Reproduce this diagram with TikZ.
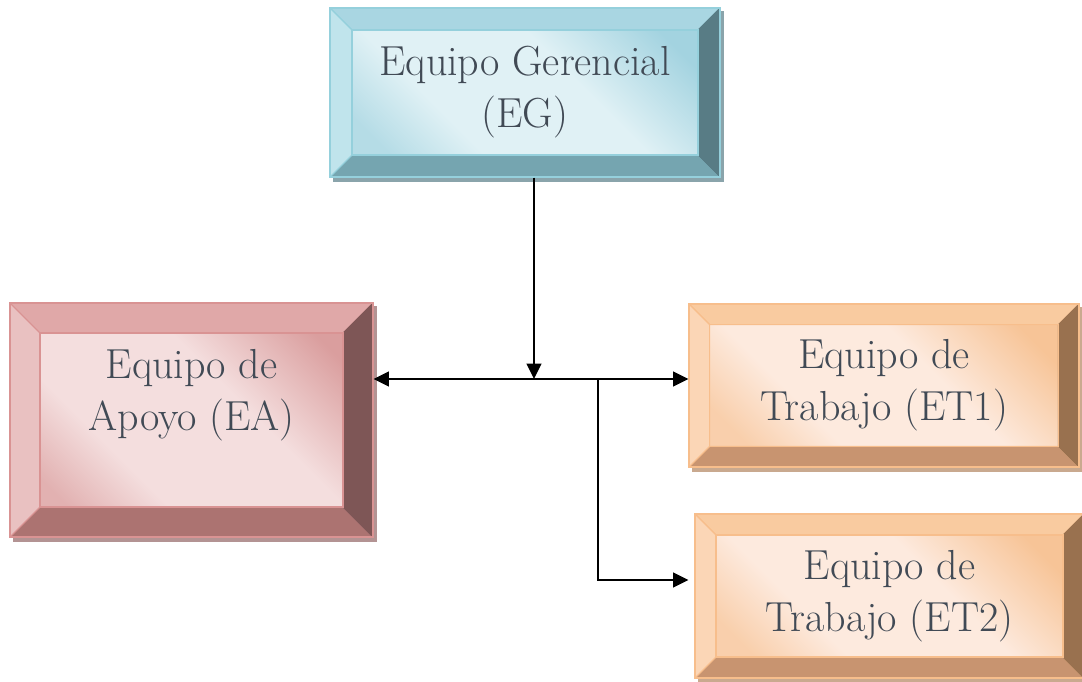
\documentclass[tikz,border=0pt]{standalone}
\usetikzlibrary{arrows.meta,backgrounds,calc}
\definecolor{txt}{HTML}{414A55}
% EG colours
\definecolor{gBorder}{HTML}{95D0DC}\definecolor{gDark}{HTML}{A3D3E0}\definecolor{gLight}{HTML}{E0F1F5}
\definecolor{gTop}{HTML}{A9D6E2}\definecolor{gLeft}{HTML}{C0E4EC}\definecolor{gRight}{HTML}{587C85}\definecolor{gBot}{HTML}{75A5B0}\definecolor{gShad}{HTML}{8AA4AB}
% EA colours
\definecolor{rBorder}{HTML}{D99393}\definecolor{rDark}{HTML}{DA9E9E}\definecolor{rLight}{HTML}{F4DEDE}
\definecolor{rTop}{HTML}{E0A8A8}\definecolor{rLeft}{HTML}{E9C1C1}\definecolor{rRight}{HTML}{7E5656}\definecolor{rBot}{HTML}{AC7371}\definecolor{rShad}{HTML}{B39393}
% ET colours
\definecolor{oBorder}{HTML}{F7BE8C}\definecolor{oDark}{HTML}{F7C497}\definecolor{oLight}{HTML}{FDEADE}
\definecolor{oTop}{HTML}{F9CBA0}\definecolor{oLeft}{HTML}{FBD6B6}\definecolor{oRight}{HTML}{99714F}\definecolor{oBot}{HTML}{C89470}\definecolor{oShad}{HTML}{C9A98F}
\pgfdeclareverticalshading{gface}{100bp}{color(0bp)=(gDark!70!gLight); color(25bp)=(gDark!70!gLight); color(37bp)=(gLight); color(58bp)=(gLight); color(75bp)=(gDark); color(100bp)=(gDark)}
\pgfdeclareverticalshading{rface}{100bp}{color(0bp)=(rDark!70!rLight); color(25bp)=(rDark!70!rLight); color(37bp)=(rLight); color(58bp)=(rLight); color(75bp)=(rDark); color(100bp)=(rDark)}
\pgfdeclareverticalshading{oface}{100bp}{color(0bp)=(oDark!70!oLight); color(25bp)=(oDark!70!oLight); color(37bp)=(oLight); color(58bp)=(oLight); color(75bp)=(oDark); color(100bp)=(oDark)}
\tikzset{
  bevelbox/.style n args={8}{
    rectangle, draw=#2, line width=0.8pt, inner sep=0pt,
    shade, shading=#3, shading angle=-45,
    path picture={
      \coordinate (pnw) at (path picture bounding box.north west);
      \coordinate (pne) at (path picture bounding box.north east);
      \coordinate (psw) at (path picture bounding box.south west);
      \coordinate (pse) at (path picture bounding box.south east);
      \coordinate (inw) at ([shift={(#1pt,-#1pt)}]pnw);
      \coordinate (ine) at ([shift={(-#1pt,-#1pt)}]pne);
      \coordinate (isw) at ([shift={(#1pt,#1pt)}]psw);
      \coordinate (ise) at ([shift={(-#1pt,#1pt)}]pse);
      \filldraw[fill=#5, draw=#2, line width=0.8pt, line join=round] (pnw) -- (pne) -- (ine) -- (inw) -- cycle;
      \filldraw[fill=#6, draw=#2, line width=0.8pt, line join=round] (pnw) -- (psw) -- (isw) -- (inw) -- cycle;
      \filldraw[fill=#8, draw=#2, line width=0.8pt, line join=round] (psw) -- (pse) -- (ise) -- (isw) -- cycle;
      \filldraw[fill=#7, draw=#7, line width=0.8pt, line join=round] (pne) -- (pse) -- (ise) -- (ine) -- cycle;
      \draw[#2, line width=0.8pt] (inw) rectangle (ise);
    }
  },
  boxtext/.style={align=center, text=txt, font=\fontsize{31.5}{39}\selectfont},
  conn/.style={line width=1.4pt, -{Triangle[length=11.5pt,width=11pt]}},
  conn2/.style={line width=1.4pt, {Triangle[length=11.5pt,width=11pt]}-{Triangle[length=11.5pt,width=11pt]}},
}
\begin{document}
\begin{tikzpicture}[x=0.75pt,y=-0.75pt]
\useasboundingbox (0,0) rectangle (1082,682);
\node[bevelbox={16.5}{gBorder}{gface}{}{gTop}{gLeft}{gRight}{gBot},
      minimum width=292.5pt, minimum height=126.75pt,
      label={[boxtext]center:{Equipo Gerencial\\(EG)}}] (EG) at (525,92.5) {};
\node[bevelbox={22.5}{rBorder}{rface}{}{rTop}{rLeft}{rRight}{rBot},
      minimum width=272.25pt, minimum height=175.5pt,
      label={[boxtext,yshift=18.5pt]center:{Equipo de\\Apoyo (EA)}}] (EA) at (191.5,420) {};
\node[bevelbox={15.5}{oBorder}{oface}{}{oTop}{oLeft}{oRight}{oBot},
      minimum width=292.5pt, minimum height=122.25pt,
      label={[boxtext]center:{Equipo de\\Trabajo (ET1)}}] (ET1) at (884,385.5) {};
\node[bevelbox={15.75}{oBorder}{oface}{}{oTop}{oLeft}{oRight}{oBot},
      minimum width=291.75pt, minimum height=123pt,
      label={[boxtext]center:{Equipo de\\Trabajo (ET2)}}] (ET2) at (889.5,596) {};
\begin{pgfonlayer}{background}
  \fill[gShad] ([shift={(2.5pt,-3pt)}]EG.south west) rectangle ([shift={(2.5pt,-3pt)}]EG.north east);
  \fill[rShad] ([shift={(2.5pt,-3pt)}]EA.south west) rectangle ([shift={(2.5pt,-3pt)}]EA.north east);
  \fill[oShad] ([shift={(2.5pt,-3pt)}]ET1.south west) rectangle ([shift={(2.5pt,-3pt)}]ET1.north east);
  \fill[oShad] ([shift={(2.5pt,-3pt)}]ET2.south west) rectangle ([shift={(2.5pt,-3pt)}]ET2.north east);
\end{pgfonlayer}
\coordinate (j1) at (534,379);
\coordinate (j2) at (598,379);
\coordinate (k) at (598,580);
\draw[conn] (EG.south -| j1) -- (j1);
\draw[conn2] (EA.east |- j1) -- (ET1.west |- j1);
\draw[conn, shorten >=4.5pt] (j2) -- (k) -- (ET2.west |- k);
\end{tikzpicture}
\end{document}
